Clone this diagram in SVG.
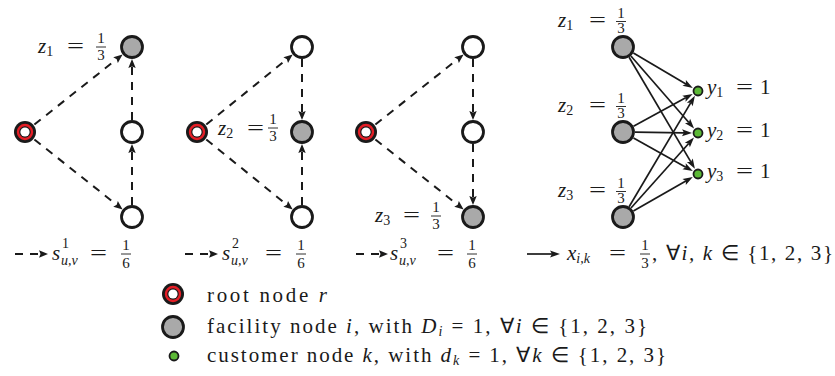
<svg xmlns="http://www.w3.org/2000/svg" width="835" height="376" viewBox="0 0 835 376" font-family="Liberation Serif, serif">
<style>
.t{font-size:21px;fill:#1a1a1a}
.i{font-style:italic}
.sb{font-size:14px}
.fr{font-size:15px;text-anchor:middle;fill:#1a1a1a}
.bar{stroke:#1a1a1a;stroke-width:0.9}
.n{fill:#fff;stroke:#1a1a1a;stroke-width:2.8}
.f{fill:#a9a9a9;stroke:#1a1a1a;stroke-width:2.8}
.c{fill:#5cb936;stroke:#1a1a1a;stroke-width:1.8}
.rb{fill:#1a1a1a}
.rr{fill:none;stroke:#e41e26;stroke-width:2.4}
.rw{fill:#fff}
.d{fill:none;stroke:#1a1a1a;stroke-width:2;stroke-dasharray:8 7}
.s{fill:none;stroke:#1a1a1a;stroke-width:1.7}
.ah{fill:#1a1a1a;stroke:none}
</style>
<rect width="835" height="376" fill="#fff"/>

<g id="connectors">
<line class="d" x1="34.4" y1="124.5" x2="116.7" y2="59.2"/>
<path class="ah" d="M122.6,54.5 L117.85,63 L116.73,59.17 L113.25,57.2 Z"/>
<line class="d" x1="132" y1="120" x2="132" y2="66.5"/>
<path class="ah" d="M132,59 L135.7,68 L132,66.5 L128.3,68 Z"/>
<line class="d" x1="132" y1="205" x2="132" y2="151.5"/>
<path class="ah" d="M132,144 L135.7,153 L132,151.5 L128.3,153 Z"/>
<line class="d" x1="34.4" y1="139.5" x2="116.7" y2="204.8"/>
<path class="ah" d="M122.6,209.5 L113.25,206.8 L116.73,204.83 L117.85,201 Z"/>
<line class="d" x1="206.3" y1="124.5" x2="286.9" y2="59.2"/>
<path class="ah" d="M292.7,54.5 L288.04,63.03 L286.87,59.22 L283.38,57.29 Z"/>
<line class="d" x1="302" y1="59" x2="302" y2="112.5"/>
<path class="ah" d="M302,120 L305.7,111 L302,112.5 L298.3,111 Z"/>
<line class="d" x1="302" y1="205" x2="302" y2="151.5"/>
<path class="ah" d="M302,144 L305.7,153 L302,151.5 L298.3,153 Z"/>
<line class="d" x1="206.3" y1="139.5" x2="286.9" y2="204.8"/>
<path class="ah" d="M292.7,209.5 L283.38,206.71 L286.87,204.78 L288.04,200.97 Z"/>
<line class="d" x1="375.4" y1="124.5" x2="457.7" y2="59.2"/>
<path class="ah" d="M463.6,54.5 L458.85,63 L457.73,59.17 L454.25,57.2 Z"/>
<line class="d" x1="473" y1="59" x2="473" y2="112.5"/>
<path class="ah" d="M473,120 L476.7,111 L473,112.5 L469.3,111 Z"/>
<line class="d" x1="473" y1="144" x2="473" y2="197.5"/>
<path class="ah" d="M473,205 L476.7,196 L473,197.5 L469.3,196 Z"/>
<line class="d" x1="375.4" y1="139.5" x2="457.7" y2="204.8"/>
<path class="ah" d="M463.6,209.5 L454.25,206.8 L457.73,204.83 L458.85,201 Z"/>
<line class="s" x1="633.4" y1="53.1" x2="685.9" y2="83.95"/>
<path class="ah" d="M692.8,88 L682.45,85.87 L685.9,83.95 L685.89,80.01 Z"/>
<line class="s" x1="630.9" y1="56" x2="688.84" y2="122.47"/>
<path class="ah" d="M694.1,128.5 L684.97,123.19 L688.84,122.47 L690.09,118.73 Z"/>
<line class="s" x1="629.1" y1="57.3" x2="690.83" y2="161.91"/>
<path class="ah" d="M694.9,168.8 L686.89,161.92 L690.83,161.91 L692.75,158.46 Z"/>
<line class="s" x1="633.5" y1="126.2" x2="685.68" y2="97.74"/>
<path class="ah" d="M692.7,93.9 L685.56,101.68 L685.68,97.74 L682.3,95.72 Z"/>
<line class="s" x1="635" y1="132.2" x2="684" y2="132.8"/>
<path class="ah" d="M692,132.9 L681.96,136.17 L684,132.8 L682.04,129.37 Z"/>
<line class="s" x1="633.5" y1="137.9" x2="685.82" y2="167.19"/>
<path class="ah" d="M692.8,171.1 L682.42,169.18 L685.82,167.19 L685.74,163.24 Z"/>
<line class="s" x1="629.1" y1="206.7" x2="690.81" y2="102.68"/>
<path class="ah" d="M694.9,95.8 L692.71,106.13 L690.81,102.68 L686.87,102.65 Z"/>
<line class="s" x1="631" y1="208" x2="688.67" y2="143.47"/>
<path class="ah" d="M694,137.5 L689.88,147.22 L688.67,143.47 L684.8,142.7 Z"/>
<line class="s" x1="633.4" y1="211" x2="685.86" y2="180.98"/>
<path class="ah" d="M692.8,177 L685.82,184.92 L685.86,180.98 L682.44,179.02 Z"/>
<line class="d" x1="15" y1="254" x2="40.5" y2="254"/>
<path class="ah" d="M48,254 L39,250.3 L40.5,254 L39,257.7 Z"/>
<line class="d" x1="185" y1="254" x2="210.5" y2="254"/>
<path class="ah" d="M218,254 L209,250.3 L210.5,254 L209,257.7 Z"/>
<line class="d" x1="356" y1="254" x2="380.5" y2="254"/>
<path class="ah" d="M388,254 L379,250.3 L380.5,254 L379,257.7 Z"/>
<line class="s" x1="527" y1="254" x2="552" y2="254"/>
<path class="ah" d="M560,254 L550,250.6 L552,254 L550,257.4 Z"/>
</g>

<g id="p1-root"><circle class="rb" cx="25" cy="132" r="11"/><circle class="rr" cx="25" cy="132" r="7"/><circle class="rw" cx="25" cy="132" r="4.6"/></g>
<g id="p1-top"><circle class="f" cx="132" cy="47" r="10.5"/></g>
<g id="p1-mid"><circle class="n" cx="132" cy="132" r="10.5"/></g>
<g id="p1-bot"><circle class="n" cx="132" cy="217" r="10.5"/></g>
<g id="p1-label">
<text font-family="Liberation Serif" class="t i" x="38" y="53">z<tspan class="sb" font-style="normal" dy="3">1</tspan></text>
<text font-family="Liberation Serif" class="t" x="67" y="53" textLength="17" lengthAdjust="spacingAndGlyphs">=</text>
<text font-family="Liberation Serif" class="fr" x="101" y="43">1</text><line class="bar" x1="96" y1="47" x2="106" y2="47"/><text font-family="Liberation Serif" class="fr" x="101" y="60">3</text>
</g>

<g id="p2-root"><circle class="rb" cx="197" cy="132" r="11"/><circle class="rr" cx="197" cy="132" r="7"/><circle class="rw" cx="197" cy="132" r="4.6"/></g>
<g id="p2-top"><circle class="n" cx="302" cy="47" r="10.5"/></g>
<g id="p2-mid"><circle class="f" cx="302" cy="132" r="10.5"/></g>
<g id="p2-bot"><circle class="n" cx="302" cy="217" r="10.5"/></g>
<g id="p2-label">
<text font-family="Liberation Serif" class="t i" x="218" y="135">z<tspan class="sb" font-style="normal" dy="3">2</tspan></text>
<text font-family="Liberation Serif" class="t" x="247" y="135" textLength="17" lengthAdjust="spacingAndGlyphs">=</text>
<text font-family="Liberation Serif" class="fr" x="273" y="124">1</text><line class="bar" x1="268" y1="128" x2="278" y2="128"/><text font-family="Liberation Serif" class="fr" x="273" y="141">3</text>
</g>

<g id="p3-root"><circle class="rb" cx="366" cy="132" r="11"/><circle class="rr" cx="366" cy="132" r="7"/><circle class="rw" cx="366" cy="132" r="4.6"/></g>
<g id="p3-top"><circle class="n" cx="473" cy="47" r="10.5"/></g>
<g id="p3-mid"><circle class="n" cx="473" cy="132" r="10.5"/></g>
<g id="p3-bot"><circle class="f" cx="473" cy="217" r="10.5"/></g>
<g id="p3-label">
<text font-family="Liberation Serif" class="t i" x="375" y="222">z<tspan class="sb" font-style="normal" dy="3">3</tspan></text>
<text font-family="Liberation Serif" class="t" x="403" y="222" textLength="17" lengthAdjust="spacingAndGlyphs">=</text>
<text font-family="Liberation Serif" class="fr" x="436" y="212">1</text><line class="bar" x1="431" y1="216" x2="441" y2="216"/><text font-family="Liberation Serif" class="fr" x="436" y="229">3</text>
</g>

<g id="f1"><circle class="f" cx="623" cy="47" r="10.5"/>
<text font-family="Liberation Serif" class="t i" x="558" y="27">z<tspan class="sb" font-style="normal" dy="3">1</tspan></text>
<text font-family="Liberation Serif" class="t" x="589" y="27" textLength="17" lengthAdjust="spacingAndGlyphs">=</text>
<text font-family="Liberation Serif" class="fr" x="621" y="18">1</text><line class="bar" x1="616" y1="21.5" x2="626" y2="21.5"/><text font-family="Liberation Serif" class="fr" x="621" y="33">3</text></g>
<g id="f2"><circle class="f" cx="623" cy="132" r="10.5"/>
<text font-family="Liberation Serif" class="t i" x="558" y="112">z<tspan class="sb" font-style="normal" dy="3">2</tspan></text>
<text font-family="Liberation Serif" class="t" x="589" y="112" textLength="17" lengthAdjust="spacingAndGlyphs">=</text>
<text font-family="Liberation Serif" class="fr" x="621" y="103">1</text><line class="bar" x1="616" y1="106.5" x2="626" y2="106.5"/><text font-family="Liberation Serif" class="fr" x="621" y="118">3</text></g>
<g id="f3"><circle class="f" cx="623" cy="217" r="10.5"/>
<text font-family="Liberation Serif" class="t i" x="558" y="197">z<tspan class="sb" font-style="normal" dy="3">3</tspan></text>
<text font-family="Liberation Serif" class="t" x="589" y="197" textLength="17" lengthAdjust="spacingAndGlyphs">=</text>
<text font-family="Liberation Serif" class="fr" x="621" y="188">1</text><line class="bar" x1="616" y1="191.5" x2="626" y2="191.5"/><text font-family="Liberation Serif" class="fr" x="621" y="203">3</text></g>
<g id="c1"><circle class="c" cx="698" cy="91" r="4.5"/>
<text font-family="Liberation Serif" class="t i" x="707" y="94">y<tspan class="sb" font-style="normal" dy="3">1</tspan></text>
<text font-family="Liberation Serif" class="t" x="736" y="94" textLength="17" lengthAdjust="spacingAndGlyphs">=</text><text font-family="Liberation Serif" class="t" x="760" y="94">1</text></g>
<g id="c2"><circle class="c" cx="698" cy="133" r="4.5"/>
<text font-family="Liberation Serif" class="t i" x="707" y="137">y<tspan class="sb" font-style="normal" dy="3">2</tspan></text>
<text font-family="Liberation Serif" class="t" x="736" y="137" textLength="17" lengthAdjust="spacingAndGlyphs">=</text><text font-family="Liberation Serif" class="t" x="760" y="137">1</text></g>
<g id="c3"><circle class="c" cx="698" cy="174" r="4.5"/>
<text font-family="Liberation Serif" class="t i" x="707" y="178">y<tspan class="sb" font-style="normal" dy="3">3</tspan></text>
<text font-family="Liberation Serif" class="t" x="736" y="178" textLength="17" lengthAdjust="spacingAndGlyphs">=</text><text font-family="Liberation Serif" class="t" x="760" y="178">1</text></g>

<g id="lab-s1">
<text font-family="Liberation Serif" class="t i" x="52" y="260">s</text>
<text font-family="Liberation Serif" class="t sb" x="62" y="248">1</text>
<text font-family="Liberation Serif" class="t sb i" x="61" y="265">u,v</text>
<text font-family="Liberation Serif" class="t" x="90" y="260" textLength="17" lengthAdjust="spacingAndGlyphs">=</text>
<text font-family="Liberation Serif" class="fr" x="126" y="250">1</text><line class="bar" x1="121" y1="254" x2="131" y2="254"/><text font-family="Liberation Serif" class="fr" x="126" y="268">6</text>
</g>
<g id="lab-s2">
<text font-family="Liberation Serif" class="t i" x="222" y="260">s</text>
<text font-family="Liberation Serif" class="t sb" x="232" y="248">2</text>
<text font-family="Liberation Serif" class="t sb i" x="231" y="265">u,v</text>
<text font-family="Liberation Serif" class="t" x="265" y="260" textLength="17" lengthAdjust="spacingAndGlyphs">=</text>
<text font-family="Liberation Serif" class="fr" x="301" y="250">1</text><line class="bar" x1="296" y1="254" x2="306" y2="254"/><text font-family="Liberation Serif" class="fr" x="301" y="268">6</text>
</g>
<g id="lab-s3">
<text font-family="Liberation Serif" class="t i" x="390" y="260">s</text>
<text font-family="Liberation Serif" class="t sb" x="400" y="248">3</text>
<text font-family="Liberation Serif" class="t sb i" x="399" y="265">u,v</text>
<text font-family="Liberation Serif" class="t" x="437" y="260" textLength="17" lengthAdjust="spacingAndGlyphs">=</text>
<text font-family="Liberation Serif" class="fr" x="472" y="250">1</text><line class="bar" x1="467" y1="254" x2="477" y2="254"/><text font-family="Liberation Serif" class="fr" x="472" y="268">6</text>
</g>
<g id="lab-x">
<text font-family="Liberation Serif" class="t i" x="567" y="260">x<tspan class="sb" dy="3">i,k</tspan></text>
<text font-family="Liberation Serif" class="t" x="609" y="260" textLength="17" lengthAdjust="spacingAndGlyphs">=</text>
<text font-family="Liberation Serif" class="fr" x="645" y="250">1</text><line class="bar" x1="640" y1="254" x2="650" y2="254"/><text font-family="Liberation Serif" class="fr" x="645" y="268">3</text>
<text font-family="Liberation Serif" class="t" x="652" y="260" textLength="181" lengthAdjust="spacing">, ∀<tspan class="i">i, k</tspan> ∈ {1, 2, 3}</text>
</g>

<g id="legend-root"><circle class="rb" cx="173" cy="294" r="11"/><circle class="rr" cx="173" cy="294" r="7"/><circle class="rw" cx="173" cy="294" r="4.6"/>
<text font-family="Liberation Serif" class="t" x="207" y="302" textLength="120" lengthAdjust="spacing">root node <tspan class="i">r</tspan></text></g>
<g id="legend-facility"><circle class="f" cx="173" cy="327" r="10.5"/>
<text font-family="Liberation Serif" class="t" x="207" y="333" textLength="440" lengthAdjust="spacing">facility node <tspan class="i">i</tspan>, with <tspan class="i">D</tspan><tspan class="sb i" dy="3">i</tspan><tspan dy="-3"> = 1, ∀</tspan><tspan class="i">i</tspan> ∈ {1, 2, 3}</text></g>
<g id="legend-customer"><circle class="c" cx="174" cy="356" r="4.5"/>
<text font-family="Liberation Serif" class="t" x="207" y="362" textLength="459" lengthAdjust="spacing">customer node <tspan class="i">k</tspan>, with <tspan class="i">d</tspan><tspan class="sb i" dy="3">k</tspan><tspan dy="-3"> = 1, ∀</tspan><tspan class="i">k</tspan> ∈ {1, 2, 3}</text></g>
</svg>
